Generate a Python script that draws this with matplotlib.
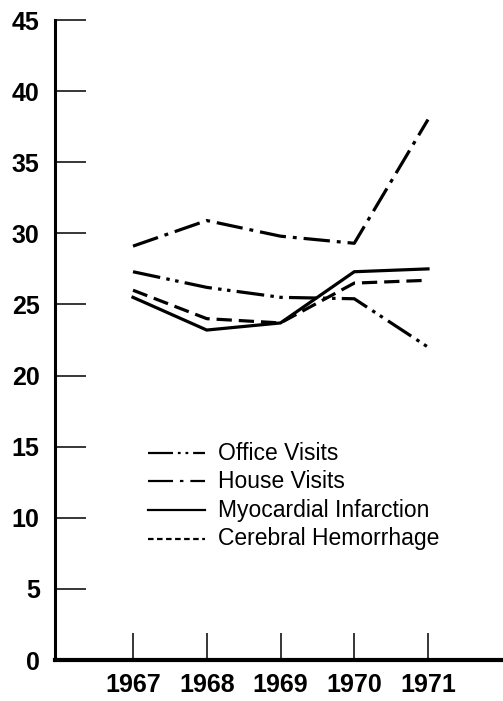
import matplotlib
matplotlib.use("Agg")
import matplotlib.pyplot as plt

# values
years = [1967, 1968, 1969, 1970, 1971]
house_visits = [29.1, 30.9, 29.8, 29.3, 38.0]
office_visits = [27.3, 26.2, 25.5, 25.4, 22.0]
myocardial = [25.5, 23.2, 23.7, 27.3, 27.5]
cerebral = [26.0, 24.0, 23.7, 26.5, 26.7]
y_ticks = [0, 5, 10, 15, 20, 25, 30, 35, 40, 45]

plt.rcParams['font.family'] = ['Liberation Sans', 'DejaVu Sans']
plt.rcParams['lines.scale_dashes'] = False

W, H = 503, 701
fig = plt.figure(figsize=(W / 100, H / 100), dpi=100)
# axis corner at (55, 660) px, top of y axis at 20 px
ax = fig.add_axes([55 / W, 1 - 660 / H, 1 - 55 / W, (660 - 20) / H])

styles = {
    "Office Visits": (0, (20, 4.5, 2.5, 4, 2.5, 4.5)),
    "House Visits": (0, (19, 5, 2.8, 5)),
    "Myocardial Infarction": "-",
    "Cerebral Hemorrhage": (0, (11, 5)),
}
legend_styles = {
    "Office Visits": (0, (18, 3.5, 2, 3.5, 2, 3.5)),
    "House Visits": (0, (18, 5, 2.5, 5)),
    "Myocardial Infarction": "-",
    "Cerebral Hemorrhage": (0, (4, 2.5)),
}
series = [
    ("Office Visits", office_visits),
    ("House Visits", house_visits),
    ("Myocardial Infarction", myocardial),
    ("Cerebral Hemorrhage", cerebral),
]

for name, vals in series:
    ax.plot(years, vals, color="black", lw=2.3, linestyle=styles[name],
            solid_joinstyle="miter", dash_capstyle="butt")

ax.set_xlim(1967 - 78 / 73.75, 1971 + 75 / 73.75)
ax.set_ylim(0, 45)

for s in ["top", "right"]:
    ax.spines[s].set_visible(False)
ax.spines["left"].set_linewidth(2.2)
ax.spines["bottom"].set_linewidth(3.0)

ax.set_yticks(y_ticks)
ax.set_yticklabels([str(v) for v in y_ticks], fontsize=18, fontweight="bold")
ax.set_xticks(years)
ax.set_xticklabels([str(y) for y in years], fontsize=18, fontweight="bold")
ax.tick_params(axis="y", direction="in", length=22, width=1.1, pad=11)
ax.tick_params(axis="x", direction="in", length=19.5, width=1.1, pad=9)

# legend drawn by hand, lines at x 148-205 px, text from 218 px
rows_y = [453, 481, 510, 539]
for (name, vals), ry in zip(series, rows_y):
    fy = 1 - ry / H
    fig.add_artist(plt.Line2D([148 / W, 205 / W], [fy, fy], color="black",
                              lw=1.6, linestyle=legend_styles[name],
                              transform=fig.transFigure, dash_capstyle="butt"))
    fig.text(218 / W, fy, name, fontsize=16.5, va="center", ha="left")

fig.savefig("out.png", dpi=100)
